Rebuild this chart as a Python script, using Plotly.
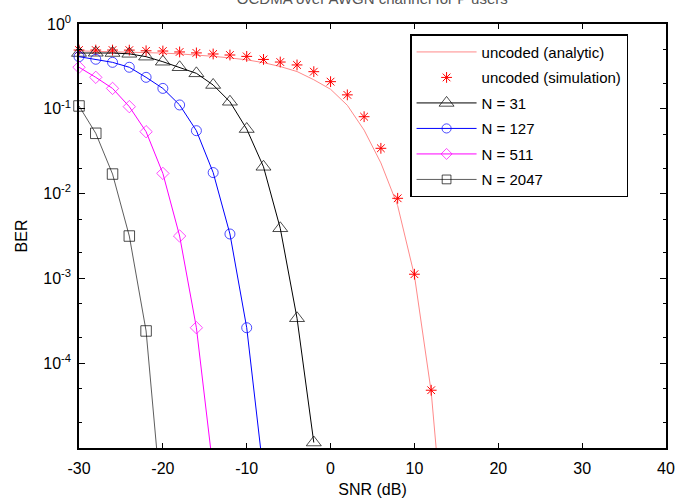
import plotly.graph_objects as go

# ---------------- data ----------------
snr_analytic = [-30, -28, -26, -24, -22, -20, -18, -16, -14, -12, -10, -8,
                -6, -4, -2, 0, 2, 4, 6, 8, 10, 12, 14]
ber_analytic = [0.482, 0.478, 0.472, 0.467, 0.461, 0.454, 0.444, 0.432, 0.416,
                0.398, 0.378, 0.350, 0.315, 0.275, 0.220, 0.170, 0.110, 0.056,
                0.023, 0.0072, 1.08e-3, 4.6e-5, 2.6e-7]

snr_sim = [-30, -28, -26, -24, -22, -20, -18, -16, -14, -12, -10, -8,
           -6, -4, -2, 0, 2, 4, 6, 8, 10, 12]
ber_sim = [0.493, 0.493, 0.493, 0.492, 0.483, 0.480, 0.468, 0.456, 0.443,
           0.431, 0.415, 0.382, 0.356, 0.329, 0.274, 0.209, 0.146, 0.0807,
           0.0342, 0.0088, 1.12e-3, 4.8e-5]

snr_n31 = [-30, -28, -26, -24, -22, -20, -18, -16, -14, -12, -10, -8, -6, -4, -2]
ber_n31 = [0.455, 0.458, 0.455, 0.445, 0.412, 0.359, 0.309, 0.262, 0.191,
           0.121, 0.0577, 0.0207, 3.9e-3, 3.39e-4, 1.16e-5]

snr_n127 = [-30, -28, -26, -24, -22, -20, -18, -16, -14, -12, -10, -8]
ber_n127 = [0.412, 0.384, 0.353, 0.309, 0.235, 0.174, 0.111, 0.0552, 0.0177,
            3.34e-3, 2.62e-4, 5.0e-6]

snr_n511 = [-30, -28, -26, -24, -22, -20, -18, -16, -14]
ber_n511 = [0.309, 0.235, 0.174, 0.106, 0.0537, 0.0173, 3.16e-3, 2.62e-4, 5.5e-6]

snr_n2047 = [-30, -28, -26, -24, -22, -20]
ber_n2047 = [0.108, 0.0514, 0.017, 3.16e-3, 2.4e-4, 1.5e-6]

x_ticks = [-30, -20, -10, 0, 10, 20, 30, 40]
x_ticktext = ["-30", "-20", "-10", "0", "10", "20", "30", "40"]
y_ticks = [1, 0.1, 0.01, 0.001, 0.0001]
y_ticktext = ["10<sup>0</sup>", "10<sup>-1</sup>", "10<sup>-2</sup>",
              "10<sup>-3</sup>", "10<sup>-4</sup>"]

Y_MIN = 1e-5
FONT = "Liberation Sans, Arial, sans-serif"


def sizes(vals, s):
    # hide markers that fall below the visible range (lines still run to the axis)
    return [s if v >= Y_MIN else 0 for v in vals]


fig = go.Figure()

fig.add_trace(go.Scatter(
    x=snr_analytic, y=ber_analytic, mode="lines", name="uncoded (analytic)",
    line=dict(color="#ff8a8a", width=1), legendgroup="a"))

fig.add_trace(go.Scatter(
    x=snr_sim, y=ber_sim, mode="markers", name="uncoded (simulation)",
    marker=dict(symbol="asterisk-open", size=9, color="red",
                line=dict(color="red", width=1)),
    cliponaxis=False, legendgroup="b"))

fig.add_trace(go.Scatter(
    x=snr_n31, y=ber_n31, mode="lines+markers", name="N = 31",
    line=dict(color="black", width=1),
    marker=dict(symbol="triangle-up-open", size=sizes(ber_n31, 13), color="black",
                line=dict(color="black", width=1)),
    cliponaxis=False, legendgroup="c"))

fig.add_trace(go.Scatter(
    x=snr_n127, y=ber_n127, mode="lines+markers", name="N = 127",
    line=dict(color="#0000ff", width=1),
    marker=dict(symbol="circle-open", size=sizes(ber_n127, 10), color="#0000ff",
                line=dict(color="#0000ff", width=1)),
    cliponaxis=False, legendgroup="d"))

fig.add_trace(go.Scatter(
    x=snr_n511, y=ber_n511, mode="lines+markers", name="N = 511",
    line=dict(color="#ff00ff", width=1),
    marker=dict(symbol="diamond-open", size=sizes(ber_n511, 9.5), color="#ff00ff",
                line=dict(color="#ff00ff", width=1)),
    cliponaxis=False, legendgroup="e"))

fig.add_trace(go.Scatter(
    x=snr_n2047, y=ber_n2047, mode="lines+markers", name="N = 2047",
    line=dict(color="#333333", width=0.8),
    marker=dict(symbol="square-open", size=sizes(ber_n2047, 10.5), color="black",
                line=dict(color="black", width=1)),
    cliponaxis=False, legendgroup="f"))

fig.update_layout(
    width=692, height=500,
    margin=dict(l=79, r=26, t=24, b=52),
    paper_bgcolor="white", plot_bgcolor="white",
    font=dict(family=FONT, size=16, color="black"),
    title=dict(text="OCDMA over AWGN channel for P users",
               x=0.538, xanchor="center", y=0.993, yanchor="bottom",
               yref="container", font=dict(size=15, color="#555555")),
    showlegend=True,
    legend=dict(x=0.564, y=0.976, xanchor="left", yanchor="top",
                bgcolor="white", bordercolor="black", borderwidth=1.5,
                font=dict(family=FONT, size=15), itemwidth=60,
                tracegroupgap=3, traceorder="grouped"),
)

fig.update_xaxes(
    range=[-30, 40], tickvals=x_ticks, ticktext=x_ticktext, ticks="inside",
    ticklen=5, ticklabelstandoff=5, automargin=False,
    tickcolor="black", showline=True, linecolor="black", linewidth=1.5,
    mirror="ticks", showgrid=False, zeroline=False,
    title=dict(text="SNR (dB)", standoff=8, font=dict(size=16)),
    tickfont=dict(size=16))

fig.update_yaxes(
    type="log", range=[-5, 0], tickvals=y_ticks, ticktext=y_ticktext,
    ticks="inside", ticklen=6, tickcolor="black", ticklabelstandoff=3,
    automargin=False,
    minor=dict(ticks="inside", ticklen=3, tickcolor="black", showgrid=False),
    showline=True, linecolor="black", linewidth=1.5, mirror="ticks",
    showgrid=False, zeroline=False,
    title=dict(text="BER", standoff=12, font=dict(size=16)),
    tickfont=dict(size=16))

fig.write_html("out.html")
